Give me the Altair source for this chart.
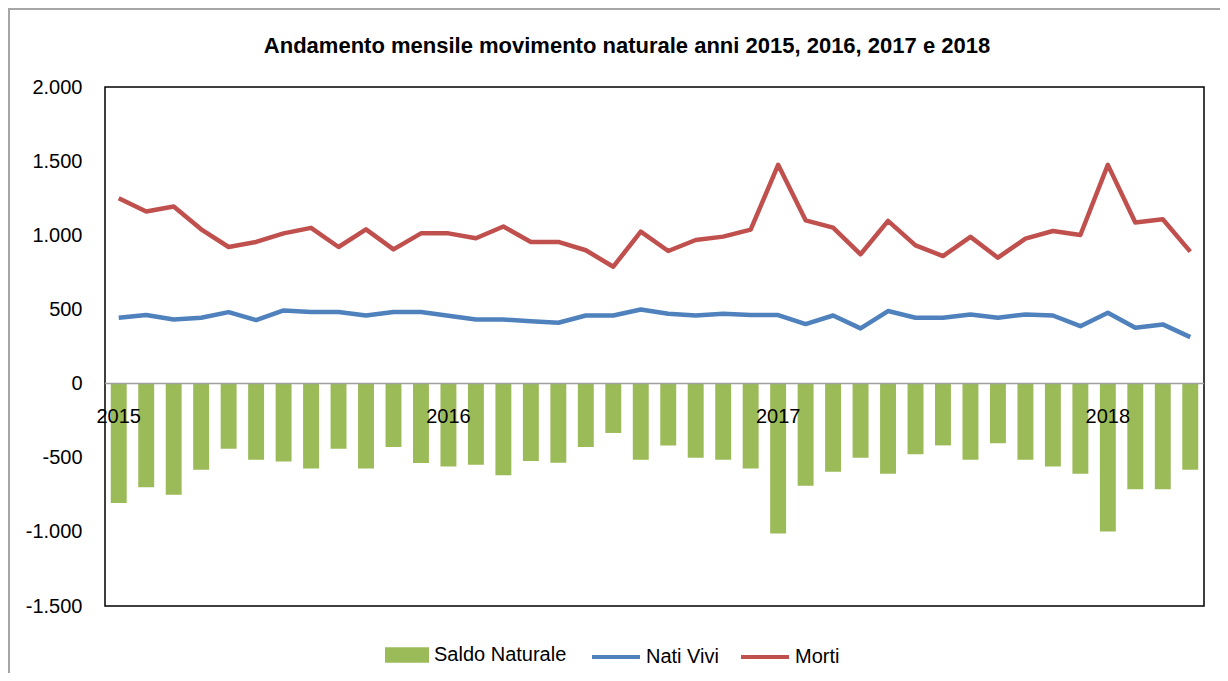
import altair as alt
import pandas as pd

years = [2015, 2016, 2017, 2018]
months = [f"{y}-{m:02d}" for y in years for m in range(1, 13)][:40]
year_labels = ["2015", "2016", "2017", "2018"]
year_label_months = ["2015-01", "2016-01", "2017-01", "2018-01"]
title_text = "Andamento mensile movimento naturale anni 2015,  2016,  2017  e 2018"

morti = [1250, 1160, 1194, 1040, 921, 955, 1013, 1050, 921, 1040, 905, 1013,
         1013, 980, 1059, 955, 955, 899, 788, 1025, 894, 968, 991, 1038,
         1475, 1101, 1052, 872, 1097, 932, 860, 989, 849, 977, 1029, 1002,
         1475, 1086, 1108, 890]
nati = [444, 462, 432, 444, 482, 428, 493, 482, 482, 459, 482, 482,
        458, 432, 432, 421, 410, 459, 459, 500, 471, 459, 471, 462,
        462, 401, 459, 372, 489, 444, 444, 466, 444, 466, 459, 387,
        477, 376, 399, 313]
saldo = [-806, -700, -750, -581, -439, -514, -525, -572, -439, -572, -428, -536,
         -559, -547, -619, -523, -534, -428, -333, -514, -417, -500, -514, -572,
         -1011, -689, -595, -500, -608, -477, -417, -514, -403, -514, -559, -608,
         -998, -712, -712, -581]

FONT = "Liberation Sans"

bars_df = pd.DataFrame({"month": months, "value": saldo, "series": "Saldo Naturale"})
lines_df = pd.concat([
    pd.DataFrame({"month": months, "value": nati, "series": "Nati Vivi"}),
    pd.DataFrame({"month": months, "value": morti, "series": "Morti"}),
])
labels_df = pd.DataFrame({"month": year_label_months, "label": year_labels, "value": 0})
title_df = pd.DataFrame({"title": [title_text]})

xscale = alt.Scale(domain=months, paddingInner=0.42, paddingOuter=0.21)
yscale = alt.Scale(domain=[-1500, 2000], nice=False)

yaxis = alt.Axis(
    values=[-1500, -1000, -500, 0, 500, 1000, 1500, 2000],
    labelExpr="(datum.value < 0 ? '-' : '') + replace(format(abs(datum.value), ','), ',', '.')",
    grid=False, ticks=False, domain=False, title=None,
    labelFont=FONT, labelFontSize=20, labelColor="#000000", labelPadding=23,
)

frame = alt.Chart(title_df).mark_rect(fill=None, stroke="#a6a6a6", strokeWidth=2).encode(
    x=alt.value(-96), x2=alt.value(1300), y=alt.value(-78), y2=alt.value(900)
)

title = alt.Chart(title_df).mark_text(
    font=FONT, fontSize=22, fontWeight="bold", color="#000000",
    align="center", baseline="alphabetic"
).encode(
    x=alt.value(522), y=alt.value(-34), text="title:N"
)

bars = alt.Chart(bars_df).mark_bar().encode(
    x=alt.X("month:O", scale=xscale, axis=None),
    y=alt.Y("value:Q", scale=yscale, axis=yaxis),
    fill=alt.Fill("series:N",
                  scale=alt.Scale(domain=["Saldo Naturale"], range=["#9BBB59"]),
                  legend=alt.Legend(orient="none", legendX=280, legendY=546, title=None,
                                    symbolType="M-1,-0.35L1,-0.35L1,0.35L-1,0.35Z",
                                    symbolSize=1936, symbolStrokeWidth=0, labelOffset=5,
                                    labelFont=FONT, labelFontSize=20, labelColor="#000000",
                                    labelLimit=0, padding=0)),
)

zero = alt.Chart(title_df).mark_rule(color="#a0a0a0", strokeWidth=1.5).encode(
    y=alt.datum(0, scale=yscale)
)

lines = alt.Chart(lines_df).mark_line(strokeWidth=4.5, strokeJoin="round").encode(
    x=alt.X("month:O", scale=xscale, axis=None),
    y=alt.Y("value:Q", scale=yscale, axis=yaxis),
    stroke=alt.Stroke("series:N",
                      scale=alt.Scale(domain=["Nati Vivi", "Morti"], range=["#4F81BD", "#C0504D"]),
                      sort=["Nati Vivi", "Morti"],
                      legend=alt.Legend(orient="none", legendX=485, legendY=544, title=None,
                                        direction="horizontal", columns=2, columnPadding=14,
                                        symbolType="stroke", symbolSize=2304, symbolStrokeWidth=4,
                                        labelOffset=4, labelFont=FONT, labelFontSize=20,
                                        labelColor="#000000", labelLimit=0, padding=0)),
    detail="series:N",
)

year_text = alt.Chart(labels_df).mark_text(
    font=FONT, fontSize=20, color="#000000", baseline="alphabetic", dy=39, align="center"
).encode(
    x=alt.X("month:O", scale=xscale, axis=None),
    y=alt.Y("value:Q", scale=yscale, axis=yaxis),
    text="label:N",
)

chart = alt.layer(frame, title, bars, zero, lines, year_text).properties(
    width=1099, height=519,
    background="white",
    autosize=alt.AutoSizeParams(type="none"),
    padding={"left": 97, "top": 79, "right": 16, "bottom": 67},
).configure_view(
    stroke="#000000", strokeWidth=1.5
)

chart.save("out.html", embed_options={"renderer": "svg", "actions": False})
